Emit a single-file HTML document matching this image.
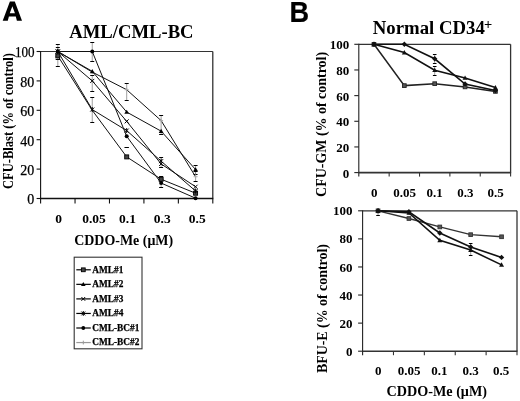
<!DOCTYPE html>
<html><head><meta charset="utf-8"><style>
html,body{margin:0;padding:0;background:#fff;}
body{width:520px;height:401px;overflow:hidden;}
svg{display:block;will-change:transform;}
</style></head><body>
<svg width="520" height="401" viewBox="0 0 520 401">
<rect width="520" height="401" fill="#fff"/>
<path fill="#000" fill-rule="evenodd" d="M9.9,1.6 L14.8,1.6 L22.0,20.8 L16.9,20.8 L15.8,16.6 L8.9,16.6 L7.8,20.8 L2.7,20.8 Z M12.35,6.3 L14.95,13.3 L9.75,13.3 Z"/>
<text x="69.3" y="37.9" font-family="'Liberation Serif', serif" font-size="18.7" font-weight="bold" text-anchor="start" textLength="124.3" lengthAdjust="spacingAndGlyphs" >AML/CML-BC</text>
<line x1="40.60" y1="51.50" x2="212.80" y2="51.50" stroke="#333" stroke-width="1.1"/>
<line x1="212.80" y1="51.50" x2="212.80" y2="198.50" stroke="#222" stroke-width="1.2"/>
<line x1="40.60" y1="51.00" x2="40.60" y2="203.50" stroke="#111" stroke-width="1.1"/>
<line x1="40.60" y1="198.50" x2="213.30" y2="198.50" stroke="#111" stroke-width="1.5"/>
<line x1="36.60" y1="51.50" x2="40.60" y2="51.50" stroke="#111" stroke-width="1.1"/>
<text x="34.6" y="57.4" font-family="'Liberation Serif', serif" font-size="14" font-weight="normal" text-anchor="end" textLength="19.6" lengthAdjust="spacingAndGlyphs" stroke="#000" stroke-width="0.25">100</text>
<line x1="36.60" y1="80.90" x2="40.60" y2="80.90" stroke="#111" stroke-width="1.1"/>
<text x="34.3" y="86.80000000000001" font-family="'Liberation Serif', serif" font-size="14" font-weight="normal" text-anchor="end" stroke="#000" stroke-width="0.25">80</text>
<line x1="36.60" y1="110.30" x2="40.60" y2="110.30" stroke="#111" stroke-width="1.1"/>
<text x="34.3" y="116.2" font-family="'Liberation Serif', serif" font-size="14" font-weight="normal" text-anchor="end" stroke="#000" stroke-width="0.25">60</text>
<line x1="36.60" y1="139.70" x2="40.60" y2="139.70" stroke="#111" stroke-width="1.1"/>
<text x="34.3" y="145.6" font-family="'Liberation Serif', serif" font-size="14" font-weight="normal" text-anchor="end" stroke="#000" stroke-width="0.25">40</text>
<line x1="36.60" y1="169.10" x2="40.60" y2="169.10" stroke="#111" stroke-width="1.1"/>
<text x="34.3" y="175.0" font-family="'Liberation Serif', serif" font-size="14" font-weight="normal" text-anchor="end" stroke="#000" stroke-width="0.25">20</text>
<line x1="36.60" y1="198.50" x2="40.60" y2="198.50" stroke="#111" stroke-width="1.1"/>
<text x="34.3" y="204.4" font-family="'Liberation Serif', serif" font-size="14" font-weight="normal" text-anchor="end" stroke="#000" stroke-width="0.25">0</text>
<line x1="75.04" y1="198.50" x2="75.04" y2="203.50" stroke="#111" stroke-width="1.1"/>
<line x1="109.48" y1="198.50" x2="109.48" y2="203.50" stroke="#111" stroke-width="1.1"/>
<line x1="143.92" y1="198.50" x2="143.92" y2="203.50" stroke="#111" stroke-width="1.1"/>
<line x1="178.36" y1="198.50" x2="178.36" y2="203.50" stroke="#111" stroke-width="1.1"/>
<line x1="212.80" y1="198.50" x2="212.80" y2="203.50" stroke="#111" stroke-width="1.1"/>
<text x="58.5" y="222.9" font-family="'Liberation Serif', serif" font-size="13.5" font-weight="bold" text-anchor="middle" >0</text>
<text x="94" y="222.9" font-family="'Liberation Serif', serif" font-size="13.5" font-weight="bold" text-anchor="middle" >0.05</text>
<text x="127.5" y="222.9" font-family="'Liberation Serif', serif" font-size="13.5" font-weight="bold" text-anchor="middle" >0.1</text>
<text x="162.3" y="222.9" font-family="'Liberation Serif', serif" font-size="13.5" font-weight="bold" text-anchor="middle" >0.3</text>
<text x="197.2" y="222.9" font-family="'Liberation Serif', serif" font-size="13.5" font-weight="bold" text-anchor="middle" >0.5</text>
<text x="74.2" y="244.6" font-family="'Liberation Serif', serif" font-size="14.6" font-weight="bold" text-anchor="start" textLength="99" lengthAdjust="spacingAndGlyphs" >CDDO-Me (&#956;M)</text>
<text transform="translate(13.0,121.0) rotate(-90)" x="0" y="0" font-family="'Liberation Serif', serif" font-size="13.6" font-weight="bold" text-anchor="middle" textLength="136" lengthAdjust="spacingAndGlyphs">CFU-Blast (% of control)</text>
<polyline points="57.82,55.91 92.26,110.30 126.70,156.90 161.14,179.24 195.58,193.21" fill="none" stroke="#111" stroke-width="1"/>
<polyline points="57.82,51.50 92.26,71.34 126.70,112.06 161.14,131.17 195.58,169.54" fill="none" stroke="#111" stroke-width="1"/>
<polyline points="57.82,51.50 92.26,80.90 126.70,121.33 161.14,163.95 195.58,186.74" fill="none" stroke="#111" stroke-width="1"/>
<polyline points="57.82,51.50 92.26,109.56 126.70,130.59 161.14,161.16 195.58,191.00" fill="none" stroke="#111" stroke-width="1"/>
<polyline points="57.82,51.50 92.26,51.50 126.70,136.32 161.14,183.06 195.58,198.21" fill="none" stroke="#111" stroke-width="1"/>
<polyline points="57.82,51.50 92.26,72.08 126.70,89.72 161.14,120.59 195.58,176.74" fill="none" stroke="#111" stroke-width="1"/>
<line x1="57.82" y1="44.00" x2="57.82" y2="66.00" stroke="#777" stroke-width="0.7"/>
<line x1="55.82" y1="44.50" x2="59.82" y2="44.50" stroke="#000" stroke-width="1"/>
<line x1="55.82" y1="66.50" x2="59.82" y2="66.50" stroke="#000" stroke-width="1"/>
<line x1="57.82" y1="47.00" x2="57.82" y2="56.00" stroke="#777" stroke-width="0.7"/>
<line x1="55.82" y1="47.50" x2="59.82" y2="47.50" stroke="#000" stroke-width="1"/>
<line x1="55.82" y1="56.50" x2="59.82" y2="56.50" stroke="#000" stroke-width="1"/>
<line x1="57.82" y1="59.40" x2="57.82" y2="59.40" stroke="#777" stroke-width="0.7"/>
<line x1="55.82" y1="59.50" x2="59.82" y2="59.50" stroke="#000" stroke-width="1"/>
<line x1="55.82" y1="59.50" x2="59.82" y2="59.50" stroke="#000" stroke-width="1"/>
<line x1="92.26" y1="42.00" x2="92.26" y2="61.20" stroke="#777" stroke-width="0.7"/>
<line x1="90.26" y1="42.50" x2="94.26" y2="42.50" stroke="#000" stroke-width="1"/>
<line x1="90.26" y1="61.50" x2="94.26" y2="61.50" stroke="#000" stroke-width="1"/>
<line x1="92.26" y1="75.80" x2="92.26" y2="91.30" stroke="#777" stroke-width="0.7"/>
<line x1="90.26" y1="75.50" x2="94.26" y2="75.50" stroke="#000" stroke-width="1"/>
<line x1="90.26" y1="91.50" x2="94.26" y2="91.50" stroke="#000" stroke-width="1"/>
<line x1="92.26" y1="97.00" x2="92.26" y2="122.50" stroke="#777" stroke-width="0.7"/>
<line x1="90.26" y1="97.50" x2="94.26" y2="97.50" stroke="#000" stroke-width="1"/>
<line x1="90.26" y1="122.50" x2="94.26" y2="122.50" stroke="#000" stroke-width="1"/>
<line x1="126.70" y1="83.70" x2="126.70" y2="100.00" stroke="#777" stroke-width="0.7"/>
<line x1="124.70" y1="83.50" x2="128.70" y2="83.50" stroke="#000" stroke-width="1"/>
<line x1="124.70" y1="100.50" x2="128.70" y2="100.50" stroke="#000" stroke-width="1"/>
<line x1="126.70" y1="147.50" x2="126.70" y2="147.50" stroke="#777" stroke-width="0.7"/>
<line x1="124.70" y1="147.50" x2="128.70" y2="147.50" stroke="#000" stroke-width="1"/>
<line x1="124.70" y1="147.50" x2="128.70" y2="147.50" stroke="#000" stroke-width="1"/>
<line x1="161.14" y1="115.00" x2="161.14" y2="134.50" stroke="#777" stroke-width="0.7"/>
<line x1="159.14" y1="115.50" x2="163.14" y2="115.50" stroke="#000" stroke-width="1"/>
<line x1="159.14" y1="134.50" x2="163.14" y2="134.50" stroke="#000" stroke-width="1"/>
<line x1="161.14" y1="157.00" x2="161.14" y2="167.50" stroke="#777" stroke-width="0.7"/>
<line x1="159.14" y1="157.50" x2="163.14" y2="157.50" stroke="#000" stroke-width="1"/>
<line x1="159.14" y1="167.50" x2="163.14" y2="167.50" stroke="#000" stroke-width="1"/>
<line x1="161.14" y1="176.00" x2="161.14" y2="187.50" stroke="#777" stroke-width="0.7"/>
<line x1="159.14" y1="176.50" x2="163.14" y2="176.50" stroke="#000" stroke-width="1"/>
<line x1="159.14" y1="187.50" x2="163.14" y2="187.50" stroke="#000" stroke-width="1"/>
<line x1="195.58" y1="165.70" x2="195.58" y2="174.00" stroke="#777" stroke-width="0.7"/>
<line x1="193.58" y1="165.50" x2="197.58" y2="165.50" stroke="#000" stroke-width="1"/>
<line x1="193.58" y1="174.50" x2="197.58" y2="174.50" stroke="#000" stroke-width="1"/>
<line x1="195.58" y1="171.70" x2="195.58" y2="181.00" stroke="#777" stroke-width="0.7"/>
<line x1="193.58" y1="171.50" x2="197.58" y2="171.50" stroke="#000" stroke-width="1"/>
<line x1="193.58" y1="181.50" x2="197.58" y2="181.50" stroke="#000" stroke-width="1"/>
<path d="M55.82,51.50 L59.82,51.50 M57.82,49.50 L57.82,53.50" stroke="#aaa" stroke-width="1"/>
<path d="M90.26,72.08 L94.26,72.08 M92.26,70.08 L92.26,74.08" stroke="#aaa" stroke-width="1"/>
<path d="M124.70,89.72 L128.70,89.72 M126.70,87.72 L126.70,91.72" stroke="#aaa" stroke-width="1"/>
<path d="M159.14,120.59 L163.14,120.59 M161.14,118.59 L161.14,122.59" stroke="#aaa" stroke-width="1"/>
<path d="M193.58,176.74 L197.58,176.74 M195.58,174.74 L195.58,178.74" stroke="#aaa" stroke-width="1"/>
<rect x="55.82" y="53.91" width="4" height="4" fill="#444" stroke="#000" stroke-width="0.9"/>
<rect x="124.70" y="154.90" width="4" height="4" fill="#444" stroke="#000" stroke-width="0.9"/>
<rect x="159.14" y="177.24" width="4" height="4" fill="#444" stroke="#000" stroke-width="0.9"/>
<rect x="193.58" y="191.21" width="4" height="4" fill="#444" stroke="#000" stroke-width="0.9"/>
<path d="M57.82,49.10 L60.22,53.30 L55.42,53.30 Z" fill="#000"/>
<path d="M92.26,68.94 L94.66,73.14 L89.86,73.14 Z" fill="#000"/>
<path d="M126.70,109.66 L129.10,113.86 L124.30,113.86 Z" fill="#000"/>
<path d="M161.14,128.77 L163.54,132.97 L158.74,132.97 Z" fill="#000"/>
<path d="M195.58,167.14 L197.98,171.34 L193.18,171.34 Z" fill="#000"/>
<path d="M55.82,49.50 L59.82,53.50 M59.82,49.50 L55.82,53.50" stroke="#000" stroke-width="1"/>
<path d="M90.26,78.90 L94.26,82.90 M94.26,78.90 L90.26,82.90" stroke="#000" stroke-width="1"/>
<path d="M124.70,119.33 L128.70,123.33 M128.70,119.33 L124.70,123.33" stroke="#000" stroke-width="1"/>
<path d="M159.14,161.95 L163.14,165.95 M163.14,161.95 L159.14,165.95" stroke="#000" stroke-width="1"/>
<path d="M193.58,184.74 L197.58,188.74 M197.58,184.74 L193.58,188.74" stroke="#000" stroke-width="1"/>
<path d="M55.82,49.50 L59.82,53.50 M59.82,49.50 L55.82,53.50 M57.82,49.00 L57.82,54.00" stroke="#000" stroke-width="1"/>
<path d="M90.26,107.56 L94.26,111.56 M94.26,107.56 L90.26,111.56 M92.26,107.06 L92.26,112.06" stroke="#000" stroke-width="1"/>
<path d="M124.70,128.59 L128.70,132.59 M128.70,128.59 L124.70,132.59 M126.70,128.09 L126.70,133.09" stroke="#000" stroke-width="1"/>
<path d="M159.14,159.16 L163.14,163.16 M163.14,159.16 L159.14,163.16 M161.14,158.66 L161.14,163.66" stroke="#000" stroke-width="1"/>
<path d="M193.58,189.00 L197.58,193.00 M197.58,189.00 L193.58,193.00 M195.58,188.50 L195.58,193.50" stroke="#000" stroke-width="1"/>
<circle cx="57.82" cy="51.50" r="2.0" fill="#000"/>
<circle cx="92.26" cy="51.50" r="2.0" fill="#000"/>
<circle cx="126.70" cy="136.32" r="2.0" fill="#000"/>
<circle cx="161.14" cy="183.06" r="2.0" fill="#000"/>
<circle cx="195.58" cy="198.21" r="2.0" fill="#000"/>
<text x="289.6" y="22.0" font-family="'Liberation Sans', sans-serif" font-size="29.5" font-weight="bold" text-anchor="start" textLength="19.6" lengthAdjust="spacingAndGlyphs" stroke="#000" stroke-width="0.2">B</text>
<text x="372.8" y="34.4" font-family="'Liberation Serif', serif" font-size="18.7" font-weight="bold" text-anchor="start" textLength="112" lengthAdjust="spacingAndGlyphs" >Normal CD34</text>
<text x="484.0" y="29.3" font-family="'Liberation Serif', serif" font-size="14.5" font-weight="bold" text-anchor="start" >+</text>
<line x1="358.80" y1="44.30" x2="510.60" y2="44.30" stroke="#333" stroke-width="1.3"/>
<line x1="510.60" y1="44.30" x2="510.60" y2="172.60" stroke="#333" stroke-width="1.3"/>
<line x1="358.80" y1="43.80" x2="358.80" y2="176.60" stroke="#222" stroke-width="1.1"/>
<line x1="358.80" y1="172.60" x2="511.10" y2="172.60" stroke="#333" stroke-width="1.6"/>
<line x1="354.30" y1="44.30" x2="358.80" y2="44.30" stroke="#222" stroke-width="1.1"/>
<text x="349.3" y="49.29999999999998" font-family="'Liberation Serif', serif" font-size="13" font-weight="bold" text-anchor="end" >100</text>
<line x1="354.30" y1="69.96" x2="358.80" y2="69.96" stroke="#222" stroke-width="1.1"/>
<text x="349.3" y="74.96" font-family="'Liberation Serif', serif" font-size="13" font-weight="bold" text-anchor="end" >80</text>
<line x1="354.30" y1="95.62" x2="358.80" y2="95.62" stroke="#222" stroke-width="1.1"/>
<text x="349.3" y="100.61999999999999" font-family="'Liberation Serif', serif" font-size="13" font-weight="bold" text-anchor="end" >60</text>
<line x1="354.30" y1="121.28" x2="358.80" y2="121.28" stroke="#222" stroke-width="1.1"/>
<text x="349.3" y="126.28" font-family="'Liberation Serif', serif" font-size="13" font-weight="bold" text-anchor="end" >40</text>
<line x1="354.30" y1="146.94" x2="358.80" y2="146.94" stroke="#222" stroke-width="1.1"/>
<text x="349.3" y="151.94" font-family="'Liberation Serif', serif" font-size="13" font-weight="bold" text-anchor="end" >20</text>
<line x1="354.30" y1="172.60" x2="358.80" y2="172.60" stroke="#222" stroke-width="1.1"/>
<text x="349.3" y="177.6" font-family="'Liberation Serif', serif" font-size="13" font-weight="bold" text-anchor="end" >0</text>
<line x1="389.16" y1="172.60" x2="389.16" y2="176.60" stroke="#333" stroke-width="1.1"/>
<line x1="419.52" y1="172.60" x2="419.52" y2="176.60" stroke="#333" stroke-width="1.1"/>
<line x1="449.88" y1="172.60" x2="449.88" y2="176.60" stroke="#333" stroke-width="1.1"/>
<line x1="480.24" y1="172.60" x2="480.24" y2="176.60" stroke="#333" stroke-width="1.1"/>
<line x1="510.60" y1="172.60" x2="510.60" y2="176.60" stroke="#333" stroke-width="1.1"/>
<text x="374.2" y="197.2" font-family="'Liberation Serif', serif" font-size="13" font-weight="bold" text-anchor="middle" >0</text>
<text x="404.5" y="197.2" font-family="'Liberation Serif', serif" font-size="13" font-weight="bold" text-anchor="middle" >0.05</text>
<text x="434.6" y="197.2" font-family="'Liberation Serif', serif" font-size="13" font-weight="bold" text-anchor="middle" >0.1</text>
<text x="465.3" y="197.2" font-family="'Liberation Serif', serif" font-size="13" font-weight="bold" text-anchor="middle" >0.3</text>
<text x="495.5" y="197.2" font-family="'Liberation Serif', serif" font-size="13" font-weight="bold" text-anchor="middle" >0.5</text>
<text transform="translate(326.4,124.4) rotate(-90)" x="0" y="0" font-family="'Liberation Serif', serif" font-size="14.2" font-weight="bold" text-anchor="middle" textLength="145" lengthAdjust="spacingAndGlyphs">CFU-GM (% of control)</text>
<polyline points="373.98,44.30 404.34,85.61 434.70,83.69 465.06,86.90 495.42,91.39" fill="none" stroke="#222" stroke-width="1.5"/>
<polyline points="373.98,44.30 404.34,52.51 434.70,70.22 465.06,77.91 495.42,87.54" fill="none" stroke="#111" stroke-width="1.6"/>
<polyline points="373.98,44.30 404.34,44.30 434.70,58.80 465.06,84.07 495.42,90.49" fill="none" stroke="#111" stroke-width="1.6"/>
<line x1="434.70" y1="54.56" x2="434.70" y2="63.54" stroke="#777" stroke-width="0.7"/>
<line x1="432.90" y1="54.50" x2="436.50" y2="54.50" stroke="#000" stroke-width="1"/>
<line x1="432.90" y1="63.50" x2="436.50" y2="63.50" stroke="#000" stroke-width="1"/>
<line x1="434.70" y1="66.11" x2="434.70" y2="75.09" stroke="#777" stroke-width="0.7"/>
<line x1="432.90" y1="66.50" x2="436.50" y2="66.50" stroke="#000" stroke-width="1"/>
<line x1="432.90" y1="75.50" x2="436.50" y2="75.50" stroke="#000" stroke-width="1"/>
<rect x="372.13" y="42.45" width="3.7" height="3.7" fill="#555" stroke="#222" stroke-width="0.9"/>
<rect x="402.49" y="83.76" width="3.7" height="3.7" fill="#555" stroke="#222" stroke-width="0.9"/>
<rect x="432.85" y="81.84" width="3.7" height="3.7" fill="#555" stroke="#222" stroke-width="0.9"/>
<rect x="463.21" y="85.05" width="3.7" height="3.7" fill="#555" stroke="#222" stroke-width="0.9"/>
<rect x="493.57" y="89.54" width="3.7" height="3.7" fill="#555" stroke="#222" stroke-width="0.9"/>
<path d="M373.98,41.78 L376.48,46.19 L371.48,46.19 Z" fill="#111"/>
<path d="M404.34,49.99 L406.84,54.40 L401.84,54.40 Z" fill="#111"/>
<path d="M434.70,67.70 L437.20,72.11 L432.20,72.11 Z" fill="#111"/>
<path d="M465.06,75.39 L467.56,79.80 L462.56,79.80 Z" fill="#111"/>
<path d="M495.42,85.02 L497.92,89.43 L492.92,89.43 Z" fill="#111"/>
<path d="M373.98,41.60 L376.68,44.30 L373.98,47.00 L371.28,44.30 Z" fill="#111"/>
<path d="M404.34,41.60 L407.04,44.30 L404.34,47.00 L401.64,44.30 Z" fill="#111"/>
<path d="M434.70,56.10 L437.40,58.80 L434.70,61.50 L432.00,58.80 Z" fill="#111"/>
<path d="M465.06,81.37 L467.76,84.07 L465.06,86.77 L462.36,84.07 Z" fill="#111"/>
<path d="M495.42,87.79 L498.12,90.49 L495.42,93.19 L492.72,90.49 Z" fill="#111"/>
<line x1="362.60" y1="210.80" x2="517.00" y2="210.80" stroke="#333" stroke-width="1.3"/>
<line x1="517.00" y1="210.80" x2="517.00" y2="351.20" stroke="#333" stroke-width="1.3"/>
<line x1="362.60" y1="210.30" x2="362.60" y2="355.20" stroke="#222" stroke-width="1.1"/>
<line x1="362.60" y1="351.20" x2="517.50" y2="351.20" stroke="#333" stroke-width="1.6"/>
<line x1="358.10" y1="210.80" x2="362.60" y2="210.80" stroke="#222" stroke-width="1.1"/>
<text x="352.6" y="215.4" font-family="'Liberation Serif', serif" font-size="13" font-weight="bold" text-anchor="end" >100</text>
<line x1="358.10" y1="238.88" x2="362.60" y2="238.88" stroke="#222" stroke-width="1.1"/>
<text x="352.6" y="243.48" font-family="'Liberation Serif', serif" font-size="13" font-weight="bold" text-anchor="end" >80</text>
<line x1="358.10" y1="266.96" x2="362.60" y2="266.96" stroke="#222" stroke-width="1.1"/>
<text x="352.6" y="271.56000000000006" font-family="'Liberation Serif', serif" font-size="13" font-weight="bold" text-anchor="end" >60</text>
<line x1="358.10" y1="295.04" x2="362.60" y2="295.04" stroke="#222" stroke-width="1.1"/>
<text x="352.6" y="299.64000000000004" font-family="'Liberation Serif', serif" font-size="13" font-weight="bold" text-anchor="end" >40</text>
<line x1="358.10" y1="323.12" x2="362.60" y2="323.12" stroke="#222" stroke-width="1.1"/>
<text x="352.6" y="327.72" font-family="'Liberation Serif', serif" font-size="13" font-weight="bold" text-anchor="end" >20</text>
<line x1="358.10" y1="351.20" x2="362.60" y2="351.20" stroke="#222" stroke-width="1.1"/>
<text x="352.6" y="355.8" font-family="'Liberation Serif', serif" font-size="13" font-weight="bold" text-anchor="end" >0</text>
<line x1="393.48" y1="351.20" x2="393.48" y2="355.20" stroke="#333" stroke-width="1.1"/>
<line x1="424.36" y1="351.20" x2="424.36" y2="355.20" stroke="#333" stroke-width="1.1"/>
<line x1="455.24" y1="351.20" x2="455.24" y2="355.20" stroke="#333" stroke-width="1.1"/>
<line x1="486.12" y1="351.20" x2="486.12" y2="355.20" stroke="#333" stroke-width="1.1"/>
<line x1="517.00" y1="351.20" x2="517.00" y2="355.20" stroke="#333" stroke-width="1.1"/>
<text x="378.2" y="375.3" font-family="'Liberation Serif', serif" font-size="13" font-weight="bold" text-anchor="middle" >0</text>
<text x="409" y="375.3" font-family="'Liberation Serif', serif" font-size="13" font-weight="bold" text-anchor="middle" >0.05</text>
<text x="439.4" y="375.3" font-family="'Liberation Serif', serif" font-size="13" font-weight="bold" text-anchor="middle" >0.1</text>
<text x="470.6" y="375.3" font-family="'Liberation Serif', serif" font-size="13" font-weight="bold" text-anchor="middle" >0.3</text>
<text x="501.2" y="375.3" font-family="'Liberation Serif', serif" font-size="13" font-weight="bold" text-anchor="middle" >0.5</text>
<text transform="translate(326.5,308.6) rotate(-90)" x="0" y="0" font-family="'Liberation Serif', serif" font-size="14.2" font-weight="bold" text-anchor="middle" textLength="129" lengthAdjust="spacingAndGlyphs">BFU-E (% of control)</text>
<polyline points="378.04,210.80 408.92,218.52 439.80,226.95 470.68,234.67 501.56,236.77" fill="none" stroke="#333" stroke-width="1.35"/>
<polyline points="378.04,210.80 408.92,212.91 439.80,240.28 470.68,250.11 501.56,264.85" fill="none" stroke="#111" stroke-width="1.6"/>
<polyline points="378.04,210.80 408.92,211.78 439.80,232.98 470.68,247.02 501.56,257.41" fill="none" stroke="#111" stroke-width="1.6"/>
<line x1="378.04" y1="210.80" x2="378.04" y2="215.01" stroke="#777" stroke-width="0.7"/>
<line x1="376.24" y1="210.50" x2="379.84" y2="210.50" stroke="#000" stroke-width="1"/>
<line x1="376.24" y1="215.50" x2="379.84" y2="215.50" stroke="#000" stroke-width="1"/>
<line x1="470.68" y1="243.09" x2="470.68" y2="255.03" stroke="#777" stroke-width="0.7"/>
<line x1="468.88" y1="243.50" x2="472.48" y2="243.50" stroke="#000" stroke-width="1"/>
<line x1="468.88" y1="255.50" x2="472.48" y2="255.50" stroke="#000" stroke-width="1"/>
<rect x="376.19" y="208.95" width="3.7" height="3.7" fill="#555" stroke="#333" stroke-width="0.9"/>
<rect x="407.07" y="216.67" width="3.7" height="3.7" fill="#555" stroke="#333" stroke-width="0.9"/>
<rect x="437.95" y="225.10" width="3.7" height="3.7" fill="#555" stroke="#333" stroke-width="0.9"/>
<rect x="468.83" y="232.82" width="3.7" height="3.7" fill="#555" stroke="#333" stroke-width="0.9"/>
<rect x="499.71" y="234.92" width="3.7" height="3.7" fill="#555" stroke="#333" stroke-width="0.9"/>
<path d="M378.04,208.28 L380.54,212.69 L375.54,212.69 Z" fill="#111"/>
<path d="M408.92,210.39 L411.42,214.80 L406.42,214.80 Z" fill="#111"/>
<path d="M439.80,237.76 L442.30,242.17 L437.30,242.17 Z" fill="#111"/>
<path d="M470.68,247.59 L473.18,252.00 L468.18,252.00 Z" fill="#111"/>
<path d="M501.56,262.33 L504.06,266.74 L499.06,266.74 Z" fill="#111"/>
<path d="M378.04,208.10 L380.74,210.80 L378.04,213.50 L375.34,210.80 Z" fill="#111"/>
<path d="M408.92,209.08 L411.62,211.78 L408.92,214.48 L406.22,211.78 Z" fill="#111"/>
<path d="M439.80,230.28 L442.50,232.98 L439.80,235.68 L437.10,232.98 Z" fill="#111"/>
<path d="M470.68,244.32 L473.38,247.02 L470.68,249.72 L467.98,247.02 Z" fill="#111"/>
<path d="M501.56,254.71 L504.26,257.41 L501.56,260.11 L498.86,257.41 Z" fill="#111"/>
<text x="386.5" y="396.3" font-family="'Liberation Serif', serif" font-size="14.6" font-weight="bold" text-anchor="start" textLength="100.5" lengthAdjust="spacingAndGlyphs" >CDDO-Me (&#956;M)</text>
<rect x="74.2" y="257.2" width="67.8" height="91.6" fill="none" stroke="#333" stroke-width="1.1"/>
<line x1="76.30" y1="269.80" x2="90.80" y2="269.80" stroke="#000" stroke-width="1.2"/>
<rect x="81.40" y="267.90" width="3.8" height="3.8" fill="#444" stroke="#000" stroke-width="0.9"/>
<text x="92.3" y="272.6" font-family="'Liberation Serif', serif" font-size="9.3" font-weight="bold" text-anchor="start" stroke="#000" stroke-width="0.25">AML#1</text>
<line x1="76.30" y1="284.35" x2="90.80" y2="284.35" stroke="#000" stroke-width="1.2"/>
<path d="M83.30,282.07 L85.60,286.06 L81.00,286.06 Z" fill="#000"/>
<text x="92.3" y="287.15000000000003" font-family="'Liberation Serif', serif" font-size="9.3" font-weight="bold" text-anchor="start" stroke="#000" stroke-width="0.25">AML#2</text>
<line x1="76.30" y1="298.90" x2="90.80" y2="298.90" stroke="#000" stroke-width="1.2"/>
<path d="M81.40,297.00 L85.20,300.80 M85.20,297.00 L81.40,300.80" stroke="#000" stroke-width="1"/>
<text x="92.3" y="301.70000000000005" font-family="'Liberation Serif', serif" font-size="9.3" font-weight="bold" text-anchor="start" stroke="#000" stroke-width="0.25">AML#3</text>
<line x1="76.30" y1="313.45" x2="90.80" y2="313.45" stroke="#000" stroke-width="1.2"/>
<path d="M81.40,311.55 L85.20,315.35 M85.20,311.55 L81.40,315.35 M83.30,311.05 L83.30,315.85" stroke="#000" stroke-width="1"/>
<text x="92.3" y="316.25000000000006" font-family="'Liberation Serif', serif" font-size="9.3" font-weight="bold" text-anchor="start" stroke="#000" stroke-width="0.25">AML#4</text>
<line x1="76.30" y1="328.00" x2="90.80" y2="328.00" stroke="#000" stroke-width="1.2"/>
<circle cx="83.30" cy="328.00" r="1.9" fill="#000"/>
<text x="92.3" y="330.8" font-family="'Liberation Serif', serif" font-size="9.3" font-weight="bold" text-anchor="start" stroke="#000" stroke-width="0.25">CML-BC#1</text>
<line x1="76.30" y1="342.55" x2="90.80" y2="342.55" stroke="#999" stroke-width="1.2"/>
<path d="M81.40,342.55 L85.20,342.55 M83.30,340.65 L83.30,344.45" stroke="#999" stroke-width="1"/>
<text x="92.3" y="345.35" font-family="'Liberation Serif', serif" font-size="9.3" font-weight="bold" text-anchor="start" stroke="#000" stroke-width="0.25">CML-BC#2</text>
</svg>
</body></html>
